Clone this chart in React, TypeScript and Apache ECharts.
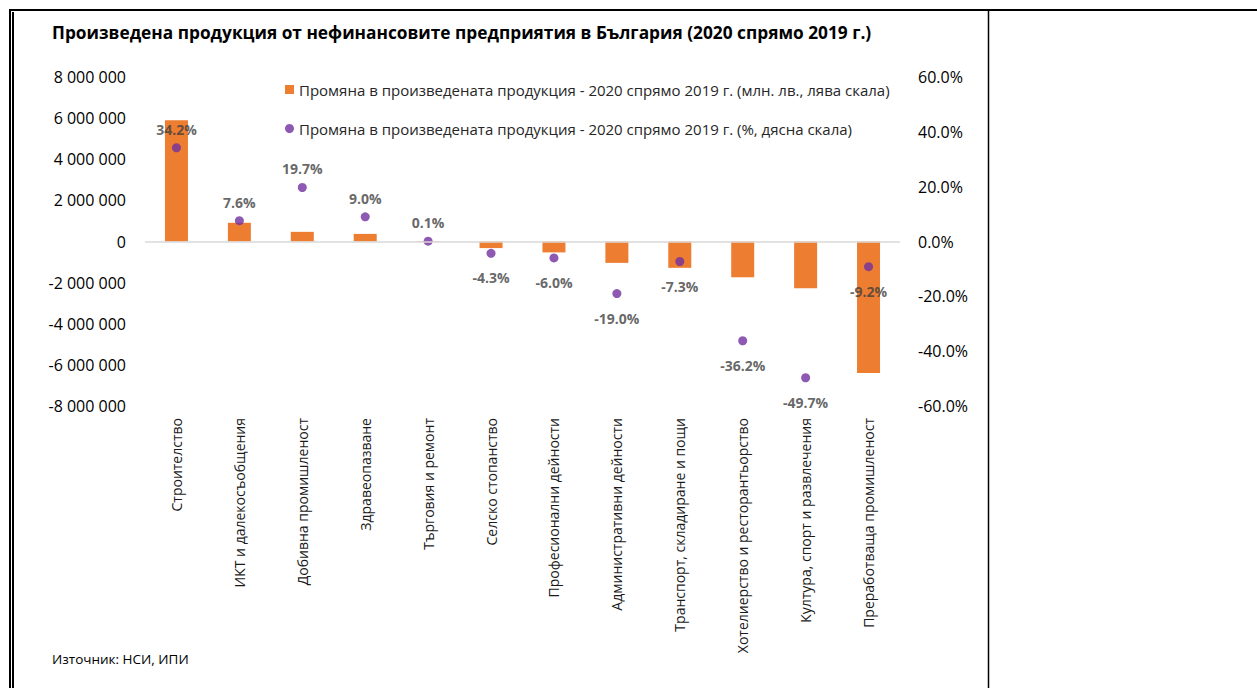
import React, { useEffect, useRef } from "react";
import * as echarts from "echarts";

const categories = [
  "Строителство",
  "ИКТ и далекосъобщения",
  "Добивна промишленост",
  "Здравеопазване",
  "Търговия и ремонт",
  "Селско стопанство",
  "Професионални дейности",
  "Административни дейности",
  "Транспорт, складиране и пощи",
  "Хотелиерство и ресторантьорство",
  "Култура, спорт и развлечения",
  "Преработваща промишленост",
];

const amountChange = [
  5900000, 910000, 470000, 370000, 20000, -320000, -530000, -1040000, -1280000,
  -1740000, -2270000, -6400000,
];

const percentChange = [34.2, 7.6, 19.7, 9.0, 0.1, -4.3, -6.0, -19.0, -7.3, -36.2, -49.7, -9.2];

const barName = "Промяна в произведената продукция - 2020 спрямо 2019 г. (млн. лв., лява скала)";
const dotName = "Промяна в произведената продукция - 2020 спрямо 2019 г. (%, дясна скала)";
const titleText = "Произведена продукция от нефинансовите предприятия в България (2020 спрямо 2019 г.)";
const sourceText = "Източник: НСИ, ИПИ";

const FONT = "'Open Sans', 'Noto Sans', sans-serif";

function fmtThousands(v: number): string {
  const s = String(Math.abs(v)).replace(/\B(?=(\d{3})+(?!\d))/g, " ");
  return (v < 0 ? "-" : "") + s;
}

export default function App() {
  const ref = useRef<HTMLDivElement>(null);
  useEffect(() => {
    if (!ref.current) return;
    const chart = echarts.init(ref.current, undefined, { renderer: "svg" });
    const option: any = {
      animation: false,
      backgroundColor: "#ffffff",
      textStyle: { fontFamily: FONT },
      title: {
        text: titleText,
        left: 47,
        top: 19,
        textStyle: { fontFamily: FONT, fontSize: 17.3, fontWeight: "bold", color: "#000000" },
      },
      legend: {
        orient: "vertical",
        left: 280,
        top: 76,
        itemWidth: 9,
        itemHeight: 9,
        itemGap: 22,
        textStyle: { fontFamily: FONT, fontSize: 15, color: "#262626", lineHeight: 17 },
        data: [
          { name: barName, icon: "rect" },
          { name: dotName, icon: "circle", itemStyle: { color: "#7030A0" } },
        ],
      },
      grid: { left: 145, right: 357, top: 77, bottom: 282, containLabel: false },
      xAxis: {
        type: "category",
        data: categories,
        position: "bottom",
        axisLine: { show: false, onZero: false },
        axisTick: { show: false },
        axisLabel: {
          rotate: 90,
          margin: 12,
          interval: 0,
          fontFamily: FONT,
          fontSize: 14,
          color: "#1a1a1a",
        },
      },
      yAxis: [
        {
          type: "value",
          min: -8000000,
          max: 8000000,
          interval: 2000000,
          splitLine: { show: false },
          axisLine: { show: false },
          axisTick: { show: false },
          axisLabel: {
            margin: 19,
            fontFamily: FONT,
            fontSize: 16,
            color: "#000000",
            formatter: (v: number) => fmtThousands(v),
          },
        },
        {
          type: "value",
          min: -60,
          max: 60,
          interval: 20,
          position: "right",
          splitLine: { show: false },
          axisLine: { show: false },
          axisTick: { show: false },
          axisLabel: {
            margin: 18,
            fontFamily: FONT,
            fontSize: 16,
            color: "#000000",
            formatter: (v: number) => v.toFixed(1) + "%",
          },
        },
      ],
      series: [
        {
          name: barName,
          type: "bar",
          yAxisIndex: 0,
          barWidth: 23,
          data: amountChange,
          itemStyle: { color: "#ED7D31" },
          markLine: {
            silent: true,
            symbol: "none",
            label: { show: false },
            lineStyle: { color: "#D9D9D9", type: "solid", width: 1.5 },
            data: [{ yAxis: 0 }],
          },
          z: 2,
        },
        {
          name: dotName,
          type: "scatter",
          yAxisIndex: 1,
          symbol: "circle",
          symbolSize: 9,
          itemStyle: { color: "#7030A0" },
          data: percentChange.map((v) => ({
            value: v,
            label: {
              position: v >= 0 ? "top" : "bottom",
              distance: v >= 0 ? 7 : 13,
            },
          })),
          label: {
            show: true,
            fontFamily: FONT,
            fontSize: 14,
            fontWeight: "bold",
            color: "#404040",
            formatter: (p: any) => Number(p.value).toFixed(1) + "%",
          },
          z: 3,
        },
      ],
      graphic: [
        {
          type: "text",
          left: 52,
          top: 652,
          style: { text: sourceText, fontFamily: FONT, fontSize: 13.5, fill: "#000000" },
        },
        { type: "line", shape: { x1: 9, y1: 10, x2: 1257, y2: 10 }, style: { stroke: "#000", lineWidth: 2 } },
        { type: "line", shape: { x1: 10, y1: 9, x2: 10, y2: 688 }, style: { stroke: "#000", lineWidth: 2 } },
        { type: "line", shape: { x1: 13, y1: 12, x2: 13, y2: 688 }, style: { stroke: "#000", lineWidth: 2 } },
        { type: "line", shape: { x1: 988.5, y1: 10, x2: 988.5, y2: 688 }, style: { stroke: "#000", lineWidth: 1.5 } },
      ],
    };
    chart.setOption(option);
    return () => chart.dispose();
  }, []);
  return (
    <div
      ref={ref}
      style={{ position: "fixed", left: 0, top: 0, width: 1257, height: 688, background: "#fff" }}
    />
  );
}
